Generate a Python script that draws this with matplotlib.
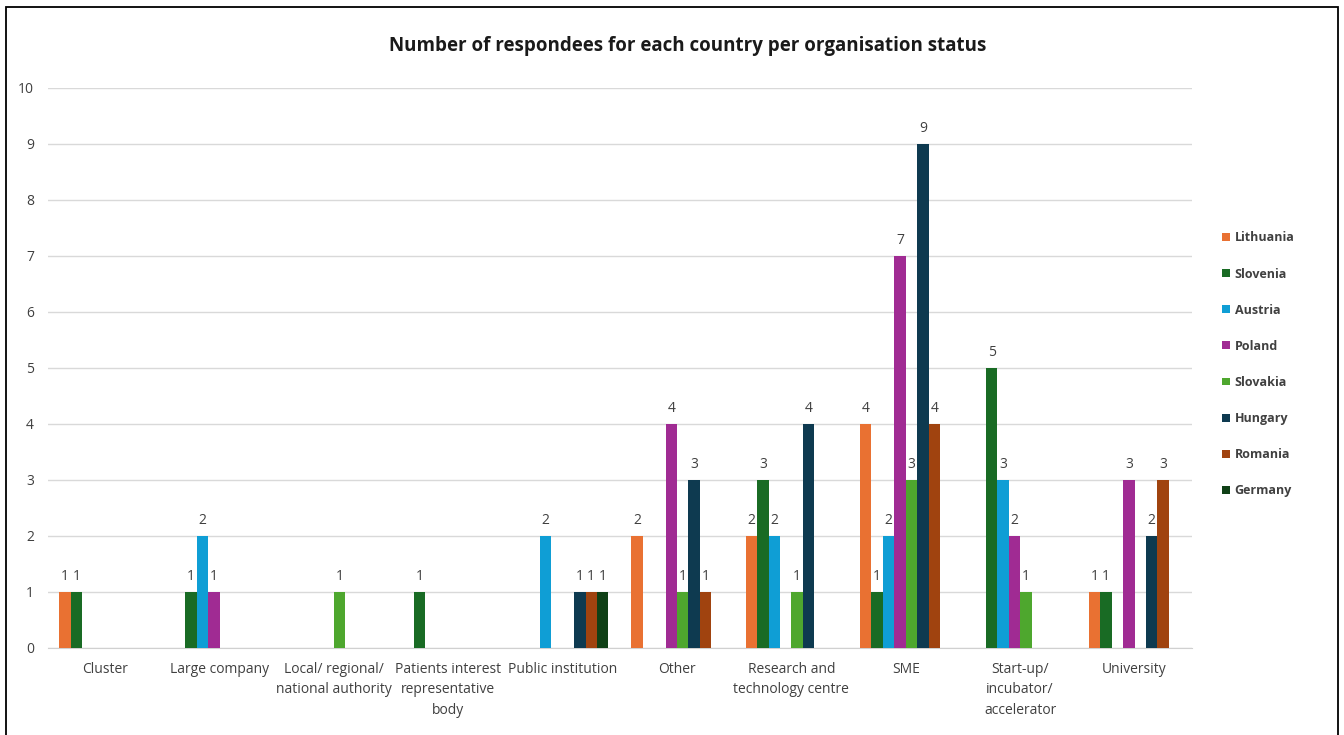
import numpy as np
import matplotlib.pyplot as plt
from matplotlib.patches import Rectangle

plt.rcParams['font.family'] = ['Open Sans', 'DejaVu Sans']

# categories and series
categories = ['Cluster', 'Large company', 'Local/ regional/\nnational authority',
              'Patients interest\nrepresentative\nbody', 'Public institution', 'Other',
              'Research and\ntechnology centre', 'SME', 'Start-up/\nincubator/\naccelerator',
              'University']
countries = ['Lithuania', 'Slovenia', 'Austria', 'Poland', 'Slovakia', 'Hungary',
             'Romania', 'Germany']
lithuania = [1, 0, 0, 0, 0, 2, 2, 4, 0, 1]
slovenia = [1, 1, 0, 1, 0, 0, 3, 1, 5, 1]
austria = [0, 2, 0, 0, 2, 0, 2, 2, 3, 0]
poland = [0, 1, 0, 0, 0, 4, 0, 7, 2, 3]
slovakia = [0, 0, 1, 0, 0, 1, 1, 3, 1, 0]
hungary = [0, 0, 0, 0, 1, 3, 4, 9, 0, 2]
romania = [0, 0, 0, 0, 1, 1, 0, 4, 0, 3]
germany = [0, 0, 0, 0, 1, 0, 0, 0, 0, 0]
series = [lithuania, slovenia, austria, poland, slovakia, hungary, romania, germany]
colors = ['#E97132', '#196B24', '#0F9ED5', '#A02B93', '#4EA72E', '#0E3A50',
          '#A0430F', '#0F4016']

fig = plt.figure(figsize=(13.44, 7.35), dpi=100)
ax = fig.add_axes([0.0357, 0.1184, 0.851, 0.7619])

x = np.arange(len(categories))
w = 0.1
for j, (name, vals, c) in enumerate(zip(countries, series, colors)):
    vals = np.array(vals, dtype=float)
    pos = x + (j - 3.5) * w
    ax.bar(pos, vals, width=w, color=c, label=name, zorder=3)
    for p, v in zip(pos, vals):
        if v > 0:
            ax.annotate(f'{int(v)}', (p, v), xytext=(0, 6), textcoords='offset points',
                        ha='center', va='bottom', fontsize=10, color='#404040')

ax.set_xlim(-0.5, len(categories) - 0.5)
ax.set_ylim(0, 10)
ax.set_yticks(range(0, 11))
ax.yaxis.grid(True, color='#D9D9D9', linewidth=1, zorder=0)
for s in ['top', 'right', 'left']:
    ax.spines[s].set_visible(False)
ax.spines['bottom'].set_color('#D0D0D0')
ax.tick_params(axis='both', length=0, labelsize=10, colors='#404040')
ax.tick_params(axis='y', pad=10)
ax.tick_params(axis='x', pad=10)
ax.set_xticks(x)
ax.set_xticklabels(categories, va='top', linespacing=1.5)

fig.text(0.512, 0.938, 'Number of respondees for each country per organisation status',
         ha='center', va='center', fontsize=13.5, fontweight='bold', color='#1a1a1a')

fig.legend(loc='upper left', bbox_to_anchor=(0.901, 0.7005), frameon=False,
           handlelength=0.6, handleheight=0.6, handletextpad=0.4, labelspacing=1.85,
           prop={'size': 9, 'weight': 'bold'}, labelcolor='#404040')

# outer frame
fig.patches.append(Rectangle((0.0045, -0.05), 0.991, 1.04, transform=fig.transFigure,
                             fill=False, edgecolor='black', linewidth=1.3))

fig.savefig('out.png', dpi=100, facecolor='white')
